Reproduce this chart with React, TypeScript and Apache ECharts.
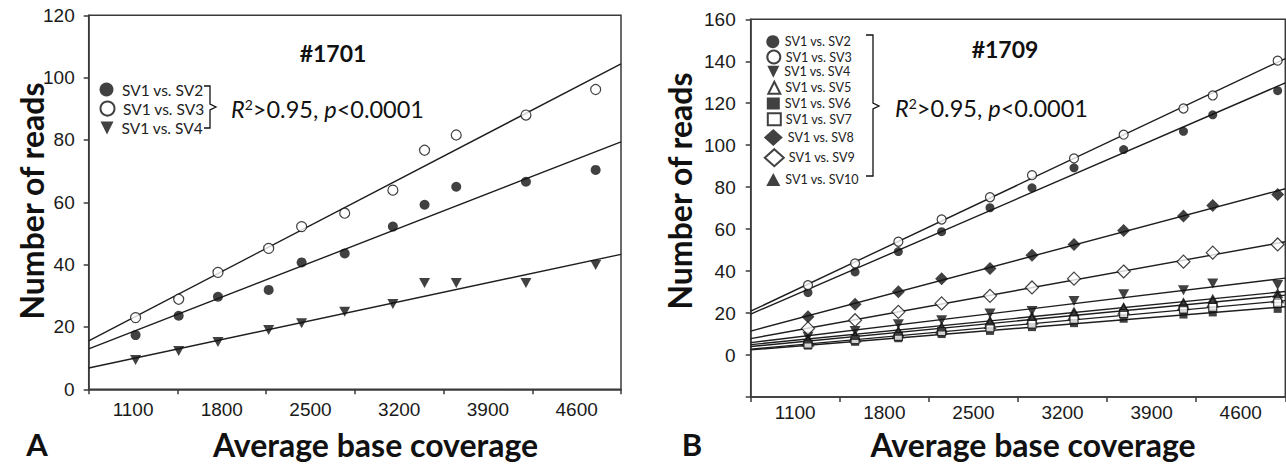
import React, { useEffect, useRef } from "react";
import * as echarts from "echarts";

// ---- data ----
const xTicks = [750, 1450, 2150, 2850, 3550, 4250, 4950];
const xTickLabels = [1100, 1800, 2500, 3200, 3900, 4600];
const xMin = 750;
const xMax = 4950;

// Panel A (#1701)
const leftX = [1120, 1460, 1770, 2170, 2430, 2770, 3150, 3400, 3650, 4200, 4750];
const leftSV2 = [17.4, 23.6, 29.7, 31.9, 40.7, 43.6, 52.2, 59.2, 65.0, 66.6, 70.4];
const leftSV3 = [23.0, 28.9, 37.5, 45.2, 52.2, 56.5, 63.9, 76.7, 81.6, 88.0, 96.2];
const leftSV4 = [9.4, 12.3, 15.2, 19.0, 21.2, 24.9, 27.4, 34.1, 34.1, 34.1, 39.9];

// Panel B (#1709)
const rightX = [1200, 1570, 1910, 2250, 2630, 2960, 3290, 3680, 4150, 4380, 4890];
const rightSV2 = [29.8, 39.6, 49.3, 58.8, 70.2, 79.7, 89.2, 97.9, 106.6, 114.5, 126.0];
const rightSV3 = [33.3, 43.7, 54.0, 64.6, 75.2, 85.7, 93.7, 105.0, 117.5, 123.7, 140.3];
const rightSV4 = [8.7, 11.5, 14.7, 16.6, 19.8, 21.0, 25.8, 29.0, 30.9, 34.1, 33.4];
const rightSV5 = [6.6, 8.6, 10.6, 12.6, 15.1, 17.1, 19.3, 21.8, 24.0, 25.3, 27.3];
const rightSV6 = [4.5, 6.3, 8.0, 10.0, 11.5, 13.3, 15.2, 17.3, 19.3, 20.3, 22.0];
const rightSV7 = [5.2, 7.3, 8.9, 11.2, 13.0, 14.7, 17.0, 19.8, 21.9, 22.7, 24.8];
const rightSV8 = [18.2, 24.2, 30.1, 36.4, 41.2, 47.5, 52.7, 59.4, 66.2, 71.3, 76.5];
const rightSV9 = [12.7, 16.6, 20.6, 24.6, 28.2, 32.2, 36.4, 39.8, 44.5, 48.8, 52.7];
const rightSV10 = [7.9, 9.6, 11.6, 13.6, 16.5, 18.6, 20.8, 22.9, 25.2, 26.8, 29.6];

const leftNames = ["SV1 vs. SV2", "SV1 vs. SV3", "SV1 vs. SV4"];
const leftValues = [leftSV2, leftSV3, leftSV4];
const rightNames = [
  "SV1 vs. SV2", "SV1 vs. SV3", "SV1 vs. SV4", "SV1 vs. SV5", "SV1 vs. SV6",
  "SV1 vs. SV7", "SV1 vs. SV8", "SV1 vs. SV9", "SV1 vs. SV10",
];
const rightValues = [
  rightSV2, rightSV3, rightSV4, rightSV5, rightSV6, rightSV7, rightSV8, rightSV9, rightSV10,
];

const titleA = "#1701";
const titleB = "#1709";
const statText = "{i|R}{s|2}>0.95, {i|p}<0.0001";

const DOWN_TRI = "path://M0,0L10,0L5,10Z";

type Mk = { symbol: string; fill: boolean; rot: number; plot: number | number[]; leg: number[] };
const markers: Record<string, Mk> = {
  "SV1 vs. SV2": { symbol: "circle", fill: true, rot: 0, plot: 9, leg: [14, 13] },
  "SV1 vs. SV3": { symbol: "circle", fill: false, rot: 0, plot: 9, leg: [14, 13] },
  "SV1 vs. SV4": { symbol: DOWN_TRI, fill: true, rot: 0, plot: [11, 10], leg: [12, 12] },
  "SV1 vs. SV5": { symbol: "triangle", fill: false, rot: 0, plot: [11, 10], leg: [12, 12] },
  "SV1 vs. SV6": { symbol: "rect", fill: true, rot: 0, plot: 8, leg: [13, 12] },
  "SV1 vs. SV7": { symbol: "rect", fill: false, rot: 0, plot: 8, leg: [13, 12] },
  "SV1 vs. SV8": { symbol: "diamond", fill: true, rot: 0, plot: 13, leg: [19, 17] },
  "SV1 vs. SV9": { symbol: "diamond", fill: false, rot: 0, plot: 13, leg: [19, 17] },
  "SV1 vs. SV10": { symbol: "triangle", fill: true, rot: 0, plot: [11, 10], leg: [14, 13] },
};

function fitLine(xs: number[], ys: number[]) {
  const n = xs.length;
  const mx = xs.reduce((a, b) => a + b, 0) / n;
  const my = ys.reduce((a, b) => a + b, 0) / n;
  let sxy = 0;
  let sxx = 0;
  for (let i = 0; i < n; i++) {
    sxy += (xs[i] - mx) * (ys[i] - my);
    sxx += (xs[i] - mx) * (xs[i] - mx);
  }
  const b = sxy / sxx;
  const a = my - b * mx;
  return [
    [xMin, a + b * xMin],
    [xMax, a + b * xMax],
  ];
}

const INK = "#111";
const AX = "#3a3a3a";
const NUM_FONT = "'Liberation Sans', Arial, sans-serif";
const LEG_FONT = "Lato, 'Open Sans', sans-serif";
const BOLD_FONT = "Lato, 'Open Sans', sans-serif";

function makeSeries(
  names: string[],
  values: number[][],
  xs: number[],
  idx: number,
  big: boolean
) {
  const out: any[] = [];
  names.forEach((name, i) => {
    out.push({
      type: "line",
      name: "fit-" + idx + "-" + i,
      xAxisIndex: idx,
      yAxisIndex: idx,
      data: fitLine(xs, values[i]),
      symbol: "none",
      showSymbol: false,
      silent: true,
      lineStyle: { color: "#1e1e1e", width: 1.4 },
      z: 2,
    });
  });
  names.forEach((name, i) => {
    const m = markers[name];
    let size: any = m.plot;
    if (big && m.symbol === "circle") size = 10;
    out.push({
      type: "scatter",
      name,
      xAxisIndex: idx,
      yAxisIndex: idx,
      data: xs.map((x, k) => [x, values[i][k]]),
      symbol: m.symbol,
      symbolSize: size,
      symbolRotate: m.rot,
      itemStyle: {
        color: m.fill ? INK : "#fff",
        borderColor: INK,
        borderWidth: m.fill ? 0 : 1.2,
      },
      z: 3,
    });
  });
  return out;
}

function makeLegends(names: string[], rows: number[], cx: number, fontSize: number, scale: number, padLeft: number) {
  return names.map((name, i) => {
    const m = markers[name];
    const w = Math.round(m.leg[0] * scale);
    const h = Math.round(m.leg[1] * scale);
    return {
      data: [{ name, icon: m.symbol }],
      left: cx - w / 2,
      top: rows[i] - Math.max(h, fontSize) / 2,
      itemWidth: w,
      itemHeight: h,
      padding: 0,
      itemGap: 0,
      selectedMode: false,
      orient: "vertical",
      textStyle: {
        fontFamily: LEG_FONT,
        fontSize,
        color: "#222",
        padding: [0, 0, 0, padLeft],
      },
    };
  });
}

function xAxisFor(idx: number, margin: number) {
  return {
    type: "value",
    gridIndex: idx,
    min: xMin,
    max: xMax,
    axisLine: { show: true, onZero: false, lineStyle: { color: AX, width: 1.5 } },
    axisTick: {
      show: true,
      customValues: xTicks,
      length: 5,
      lineStyle: { color: AX, width: 1.5 },
    },
    axisLabel: {
      customValues: xTickLabels,
      fontSize: 19,
      fontFamily: NUM_FONT,
      color: "#1a1a1a",
      margin,
      formatter: (v: number) => String(v),
    },
    splitLine: { show: false },
  };
}

function yAxisFor(idx: number, min: number, max: number, margin: number) {
  return {
    type: "value",
    gridIndex: idx,
    min,
    max,
    interval: 20,
    axisLine: { show: true, onZero: false, lineStyle: { color: AX, width: 1.5 } },
    axisTick: { show: true, length: 5, lineStyle: { color: AX, width: 1.5 } },
    axisLabel: {
      fontSize: 19,
      fontFamily: NUM_FONT,
      color: "#1a1a1a",
      margin,
      formatter: (v: number) => (v < 0 ? "" : String(v)),
    },
    splitLine: { show: false },
  };
}

function text(x: number, y: number, t: string, size: number, bold: boolean, rot = 0, align = "center") {
  return {
    type: "text",
    x,
    y,
    rotation: rot,
    silent: true,
    style: {
      text: t,
      fontSize: size,
      fontWeight: bold ? "bold" : "normal",
      fontFamily: BOLD_FONT,
      fill: INK,
      textAlign: align,
      textVerticalAlign: "middle",
      align,
      verticalAlign: "middle",
    },
  };
}

function stat(x: number, y: number) {
  return {
    type: "text",
    x,
    y,
    silent: true,
    style: {
      text: statText,
      fontSize: 23.5,
      fontFamily: BOLD_FONT,
      fill: INK,
      textAlign: "left",
      textVerticalAlign: "middle",
      align: "left",
      verticalAlign: "middle",
      rich: {
        i: { fontStyle: "italic", fontSize: 23.5, fontFamily: BOLD_FONT, fill: INK },
        s: { fontSize: 14, fontFamily: BOLD_FONT, fill: INK, verticalAlign: "top" },
      },
    },
  };
}

function brace(xv: number, top: number, bottom: number, mid: number, tick: number, cusp: number) {
  return {
    type: "polyline",
    silent: true,
    shape: {
      points: [
        [xv - tick, top],
        [xv, top],
        [xv, mid - 3],
        [xv + cusp, mid],
        [xv, mid + 3],
        [xv, bottom],
        [xv - tick, bottom],
      ],
    },
    style: { stroke: INK, lineWidth: 1.3, fill: null },
  };
}

export default function App() {
  const ref = useRef<HTMLDivElement>(null);
  useEffect(() => {
    if (!ref.current) return;
    const chart = echarts.init(ref.current, undefined, { renderer: "svg" });
    const option: any = {
      animation: false,
      backgroundColor: "#fff",
      grid: [
        {
          left: 88.7,
          top: 15.3,
          width: 532.3,
          height: 374,
          show: true,
          borderColor: AX,
          borderWidth: 1.5,
          backgroundColor: "transparent",
          outerBoundsMode: "none",
          containLabel: false,
        },
        {
          left: 750.7,
          top: 19.3,
          width: 534.6,
          height: 377.7,
          show: true,
          borderColor: AX,
          borderWidth: 1.5,
          backgroundColor: "transparent",
          outerBoundsMode: "none",
          containLabel: false,
        },
      ],
      xAxis: [xAxisFor(0, 11), xAxisFor(1, 6)],
      yAxis: [yAxisFor(0, 0, 120, 14), yAxisFor(1, -20, 160, 15)],
      legend: [
        ...makeLegends(leftNames, [89.3, 108.3, 127.7], 107, 15.5, 1.05, 3),
        ...makeLegends(rightNames, [41.7, 56, 71.5, 87, 103.3, 118.5, 137.5, 156.7, 179.5], 773.3, 12.6, 1, 0),
      ],
      series: [
        ...makeSeries(leftNames, leftValues, leftX, 0, true),
        ...makeSeries(rightNames, rightValues, rightX, 1, false),
      ],
      graphic: [
        text(31, 201, "Number of reads", 32, true, Math.PI / 2),
        text(679, 191, "Number of reads", 32, true, Math.PI / 2),
        text(375.5, 444, "Average base coverage", 32, true),
        text(1033, 444, "Average base coverage", 32, true),
        text(37, 444, "A", 31, true),
        text(692, 444, "B", 31, true),
        text(333, 53, titleA, 23, true),
        text(1005, 49, titleB, 23, true),
        stat(231, 109),
        stat(895, 108),
        brace(210, 86, 128, 107, 6, 6),
        brace(873, 35, 176, 106, 7, 6),
      ],
    };
    chart.setOption(option);
    return () => chart.dispose();
  }, []);
  return (
    <div
      ref={ref}
      style={{ position: "fixed", left: 0, top: 0, width: 1286, height: 467, background: "#fff" }}
    />
  );
}
